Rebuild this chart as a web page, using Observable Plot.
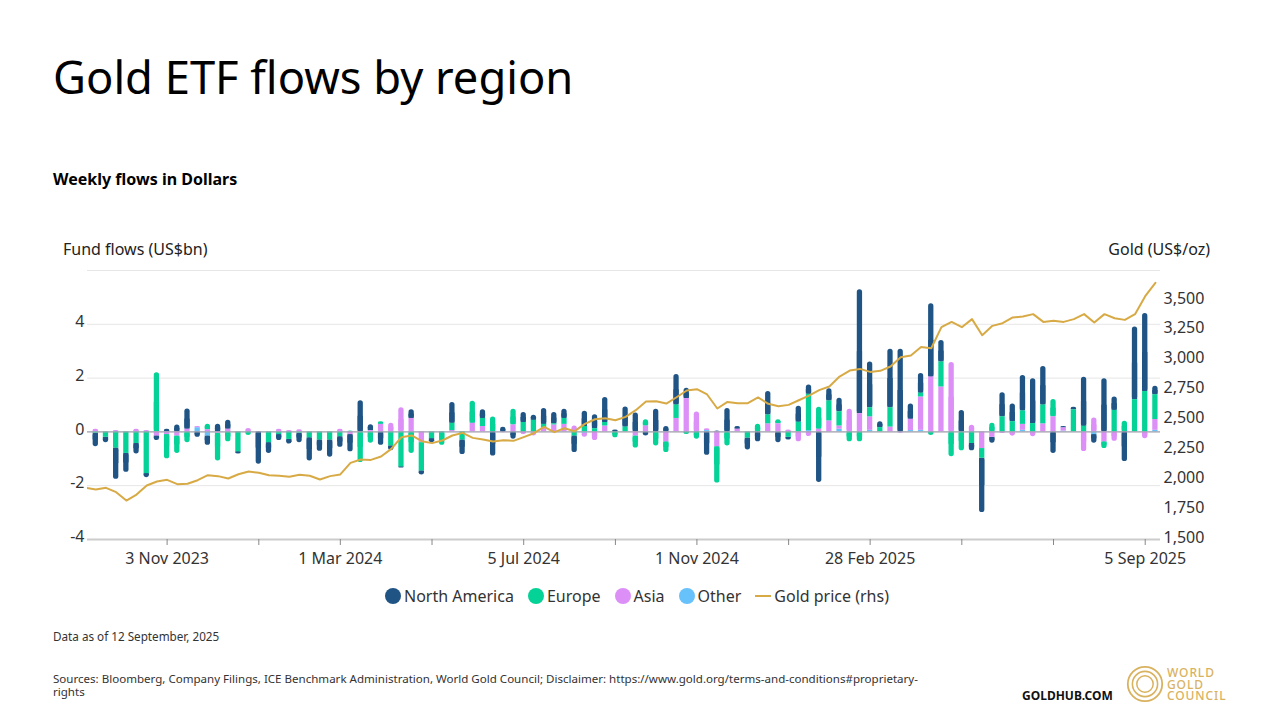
<!DOCTYPE html>
<html><head><meta charset="utf-8">
<script src="https://cdn.jsdelivr.net/npm/d3@7"></script>
<script src="https://cdn.jsdelivr.net/npm/@observablehq/plot@0.6"></script>
<style>
html,body{margin:0;padding:0;background:#fff;width:1280px;height:720px;overflow:hidden;font-family:"Noto Sans",sans-serif;color:#000}
.abs{position:absolute;white-space:nowrap}
#chart{position:absolute;left:0;top:225px}
#legend{position:absolute;left:0;width:1280px;top:585px;display:flex;justify-content:center;align-items:center;font-size:16px;color:#333;transform:translateX(-3px)}
#legend .it{display:flex;align-items:center;margin:0 7px}
#legend .dot{width:16px;height:16px;border-radius:50%;margin-right:3px;display:inline-block}
#legend .ln{width:16px;height:2px;margin-right:3px;display:inline-block}
</style></head><body>
<div class="abs" style="left:53px;top:45px;font-size:45.3px;line-height:64px">Gold ETF flows by region</div>
<div class="abs" style="left:53px;top:169px;font-size:16px;line-height:21px;font-weight:700">Weekly flows in Dollars</div>
<div class="abs" style="left:63px;top:239px;font-size:16px;line-height:21px;color:#222">Fund flows (US$bn)</div>
<div class="abs" style="right:70px;top:239px;font-size:16px;line-height:21px;color:#222">Gold (US$/oz)</div>
<div id="chart"></div>
<div id="legend"></div>
<div class="abs" style="left:53px;top:628px;font-size:11.7px;line-height:16px;color:#333">Data as of 12 September, 2025</div>
<div class="abs" style="left:53px;top:671.5px;font-size:11.55px;line-height:13px;color:#333">Sources: Bloomberg, Company Filings, ICE Benchmark Administration, World Gold Council; Disclaimer: https://www.gold.org/terms-and-conditions#proprietary-<br>rights</div>
<div class="abs" style="left:1022px;top:688px;font-size:12px;line-height:16px;font-weight:700;color:#111">GOLDHUB.COM</div>
<svg class="abs" style="left:1125px;top:664px" width="40" height="40" fill="none" stroke="#d9b25f">
<circle cx="20" cy="20" r="17.2" stroke-width="1.8"/><circle cx="20" cy="20" r="12.6" stroke-width="1.6"/><circle cx="20" cy="20" r="8.2" stroke-width="1.5"/></svg>
<div class="abs" style="left:1167px;top:667px;font-size:12px;line-height:11.7px;font-weight:500;color:#d9b25f;letter-spacing:.9px">WORLD<br>GOLD<br>COUNCIL</div>
<script>
// Weekly observations, starting Friday 15 Sep 2023 (US$bn)
const firstWeek = "2023-09-15";
const northAmerica = [-.5,-.2,-1.16,-.7,-.39,-.15,-.17,.1,.26,.75,-.2,-.35,.28,.33,-.08,0,-1.2,-.4,-.22,-.17,-.35,-.86,-.42,-.64,-.39,-.64,1.16,.22,-.5,-.18,-.04,.32,-.15,-.15,0,.77,-.54,0,.32,-.9,.17,-.27,.37,.19,.59,.42,.34,-.62,.57,.52,.93,.07,.75,.7,-.15,.84,.2,1.13,.38,0,-.87,.03,.87,.1,-.44,-.37,.87,-.4,-.1,.59,.34,-1.88,.45,.5,0,4.6,1.7,.22,2.17,3.07,.57,.73,2.72,.8,0,.8,-.27,-2.02,-.22,.9,.66,1.32,1.67,1.43,-.8,.05,.1,1.82,-.32,1.98,.5,-1.1,2.7,2.9,.32];
const europe = [-.05,-.2,-.6,-.8,-.43,-1.55,2.2,-.9,-.65,-.4,0,.2,-1.03,-.37,-.74,-.13,0,-.4,-.1,-.28,-.05,-.22,-.3,-.3,-.18,.03,-1.14,-.42,.1,-.52,-1.3,-.8,-1.05,-.25,-.5,.27,-.3,.82,.3,.55,0,.58,.35,.43,.13,.04,.22,-.15,.2,.12,.13,-.22,.18,-.45,.23,-.52,-.4,.5,-.1,-.27,0,-1.35,-.52,0,-.23,.28,.33,.15,-.2,.36,1.35,.82,.74,.53,-.37,-.37,.34,.16,.72,0,0,.14,-.13,.93,-.92,-.7,-.43,-.36,.32,.56,.38,.5,.31,.7,.64,0,.82,.21,0,-.25,.8,.4,1.2,1.5,.92];
const asia = [.1,0,.05,0,.1,.05,-.15,-.1,-.15,.1,.05,.08,-.05,.1,0,.13,0,0,.1,.05,.08,0,0,0,.1,-.1,0,.05,.28,.32,.9,.5,-.4,0,0,.05,0,.32,.2,0,-.03,.26,-.1,-.15,.15,.26,.28,.22,-.15,-.32,.22,0,0,-.15,.22,0,-.37,.5,1.24,.74,.07,-.55,0,.1,0,0,.3,.3,.07,-.37,-.17,.1,.41,.12,.84,.68,.5,0,.18,-.05,.42,1.24,2.04,1.67,2.58,0,.25,-.62,-.2,-.06,-.16,.22,-.18,.3,.56,.12,0,-.73,.52,-.37,-.35,0,0,-.25,.4];
const other = [0,0,0,0,0,0,0,0,0,0,.15,-.15,0,0,0,0,0,0,0,0,0,0,0,0,0,0,0,0,0,0,0,0,0,0,0,0,0,0,0,0,0,0,0,0,0,0,0,0,-.05,0,0,0,0,0,0,0,0,0,0,0,.05,0,0,0,0,0,0,0,0,0,.05,0,0,.1,0,0,.06,0,0,0,.05,.06,0,0,0,0,0,0,0,0,0,.06,0,0,0,.03,0,0,-.1,0,0,0,0,0,.06];
// Gold price (US$/oz); the first value is the week before firstWeek
const goldPrice = [1932,1918,1932,1896,1826,1876,1952,1985,1999,1963,1966,1996,2038,2030,2010,2046,2069,2058,2038,2033,2024,2041,2033,2002,2030,2044,2141,2169,2166,2194,2258,2356,2370,2322,2306,2328,2370,2392,2350,2336,2320,2331,2325,2356,2389,2442,2398,2431,2406,2467,2506,2515,2498,2526,2582,2654,2657,2637,2690,2746,2757,2713,2596,2651,2640,2640,2688,2635,2615,2626,2665,2704,2749,2780,2863,2913,2927,2902,2911,2947,3025,3039,3111,3100,3276,3320,3276,3343,3209,3287,3309,3357,3365,3385,3320,3329,3320,3343,3385,3315,3385,3351,3337,3385,3535,3647];
const regions = ["North America","Europe","Asia","Other"];
const regionColors = ["#1f5485","#05d296","#dd8ff8","#67c1fb"];
const goldColor = "#d8aa45";
const leftTicks = [-4,-2,0,2,4];
const gridValues = [-2,0,2,4,6];
const rightTicks = [1500,1750,2000,2250,2500,2750,3000,3250,3500];
const tickWeeks = [7,16,24,33,42,51,59,68,76,85,94,103];
const labelledWeeks = {7:"3 Nov 2023",24:"1 Mar 2024",42:"5 Jul 2024",59:"1 Nov 2024",76:"28 Feb 2025",103:"5 Sep 2025"};

const DAY = 864e5;
const t0 = +new Date(firstWeek + "T00:00:00Z");
const dateOf = i => new Date(t0 + i * 7 * DAY);
// Right-hand axis mapped onto the left scale
const goldToLeft = d3.scaleLinear().domain([1500,3750]).range([-4,6]);

const rows = [];
const bySeries = {"North America":northAmerica,"Europe":europe,"Asia":asia,"Other":other};
northAmerica.forEach((_, i) => {
  let pos = 0, neg = 0, lastPos = null, lastNeg = null;
  for (const name of ["Other","Asia","Europe","North America"]) {
    const v = bySeries[name][i];
    if (!v) continue;
    const base = v > 0 ? pos : neg;
    const r = {date: dateOf(i), series: name, y1: base, y2: base + v, outer: false};
    if (v > 0) { pos += v; lastPos = r; } else { neg += v; lastNeg = r; }
    rows.push(r);
  }
  if (lastPos) lastPos.outer = true;
  if (lastNeg) lastNeg.outer = true;
});
const half = 1.82 * DAY;
const x1 = d => new Date(+d.date - half), x2 = d => new Date(+d.date + half);
const inner = rows.filter(d => !d.outer), outer = rows.filter(d => d.outer);
const gold = goldPrice.map((p, k) => ({date: dateOf(k - 1), y: goldToLeft(p)}));

const chart = Plot.plot({
  width: 1280, height: 345,
  marginLeft: 87, marginRight: 120, marginTop: 45, marginBottom: 31,
  style: {fontFamily: '"Noto Sans",sans-serif', fontSize: "16px", color: "#333", background: "transparent", overflow: "visible"},
  x: {type: "utc", domain: [new Date(t0 - 5.7 * DAY), new Date(t0 + 731.5 * DAY)], label: null},
  y: {domain: [-4, 6], label: null},
  color: {domain: regions, range: regionColors},
  marks: [
    Plot.ruleY(gridValues, {stroke: "#e6e6e6", strokeWidth: 1}),
    Plot.rect(outer, {x1, x2, y1: "y1", y2: "y2", fill: "series", rx: 2.6}),
    Plot.rect(outer, {x1, x2, y1: "y1", y2: d => (d.y1 + d.y2) / 2, fill: "series"}),
    Plot.rect(inner, {x1, x2, y1: "y1", y2: "y2", fill: "series"}),
    Plot.ruleY([0], {stroke: "#a3a3b0", strokeWidth: 1.2}),
    Plot.line(gold, {x: "date", y: "y", stroke: goldColor, strokeWidth: 2, clip: true}),
    Plot.ruleY([-4], {stroke: "#cccccc", strokeWidth: 2}),
    Plot.axisX({anchor: "bottom", ticks: tickWeeks.map(dateOf), tickSize: 6, tickPadding: 7, stroke: "#888",
      tickFormat: d => labelledWeeks[Math.round((+d - t0) / (7 * DAY))] || "", fill: "#333", fontSize: 16, label: null}),
    Plot.axisY({anchor: "left", ticks: leftTicks, tickSize: 0, tickPadding: 3, dy: -2.5, tickFormat: d => String(d), fill: "#333", fontSize: 16, label: null}),
    Plot.axisY({anchor: "right", ticks: rightTicks.map(goldToLeft), tickSize: 0, tickPadding: 3, dy: -2,
      tickFormat: d => d3.format(",")(Math.round(goldToLeft.invert(d))), fill: "#333", fontSize: 16, label: null})
  ]
});
document.getElementById("chart").appendChild(chart);

const legend = document.getElementById("legend");
regions.forEach((r, i) => {
  legend.insertAdjacentHTML("beforeend", `<span class="it"><span class="dot" style="background:${regionColors[i]}"></span>${r}</span>`);
});
legend.insertAdjacentHTML("beforeend", `<span class="it"><span class="ln" style="background:${goldColor}"></span>Gold price (rhs)</span>`);
</script>
</body></html>
